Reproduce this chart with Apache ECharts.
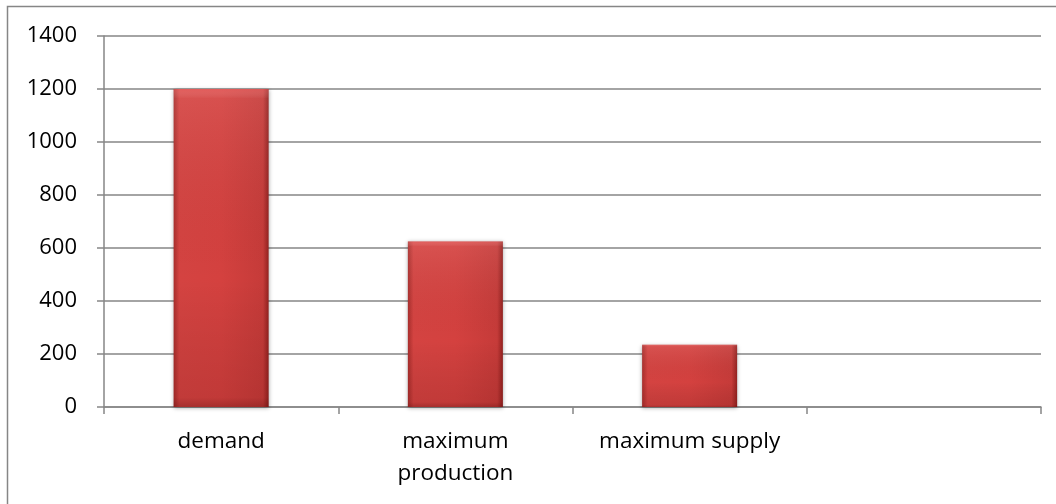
<!DOCTYPE html>
<html>
<head>
<meta charset="utf-8">
<script src="https://cdn.jsdelivr.net/npm/echarts@6/dist/echarts.min.js"></script>
<style>
  html,body{margin:0;padding:0;background:#fff}
  .demo{width:1056px;height:504px}
</style>
</head>
<body>
<div class="demo"></div>
<script>
const categories = ['demand', 'maximum\nproduction', 'maximum supply', '']
const values = [1200, 625, 235, null]
const yTicks = [0, 200, 400, 600, 800, 1000, 1200, 1400]

;(function(){
  const chartinstance = echarts.init(document.querySelector('.demo'))
  const fontFamily = '"Open Sans", "Liberation Sans", sans-serif'
  const gray = '#868686'
  const option = {
    animation:false,
    graphic:[{
      type:'rect',
      shape:{x:7.5, y:6.5, width:1200, height:600},
      style:{fill:'none', stroke:gray, lineWidth:1.5},
      silent:true
    }],
    grid:{left:104, right:15, top:36, bottom:97},
    xAxis:{
      type:'category',
      data:categories,
      axisLine:{lineStyle:{color:gray, width:1.5}},
      axisTick:{show:true, length:7, lineStyle:{color:gray, width:1.5}},
      axisLabel:{color:'#000', fontSize:22.5, fontFamily:fontFamily, margin:19, lineHeight:32, interval:0}
    },
    yAxis:{
      type:'value',
      min:yTicks[0],
      max:yTicks[yTicks.length-1],
      interval:200,
      axisLine:{show:true, lineStyle:{color:gray, width:1.5}},
      axisTick:{show:true, length:7, lineStyle:{color:gray, width:1.5}},
      splitLine:{lineStyle:{color:gray, width:1.5}},
      axisLabel:{color:'#000', fontSize:22, fontFamily:fontFamily, margin:27, formatter:v => String(v)}
    },
    series:[
      {
        type:'bar',
        data:values,
        barWidth:95,
        itemStyle:{
          color:new echarts.graphic.LinearGradient(0,0,1,0,[
            {offset:0, color:'#a92e2c'},
            {offset:0.06, color:'#d44341'},
            {offset:0.5, color:'#d4413f'},
            {offset:0.94, color:'#c63b39'},
            {offset:1, color:'#93211f'}
          ]),
          shadowBlur:4,
          shadowColor:'rgba(0,0,0,0.35)',
          shadowOffsetY:1
        }
      },
      {
        type:'bar',
        data:values,
        barWidth:95,
        barGap:'-100%',
        itemStyle:{
          color:new echarts.graphic.LinearGradient(0,0,0,1,[
            {offset:0, color:'rgba(255,140,140,0.35)'},
            {offset:0.03, color:'rgba(255,255,255,0.08)'},
            {offset:0.6, color:'rgba(0,0,0,0)'},
            {offset:0.97, color:'rgba(60,0,0,0.12)'},
            {offset:1, color:'rgba(60,0,0,0.3)'}
          ])
        }
      }
    ]
  }
  option && chartinstance.setOption(option)
  window.addEventListener('resize',()=>{
    chartinstance.resize();
  })
})();
</script>
</body>
</html>
